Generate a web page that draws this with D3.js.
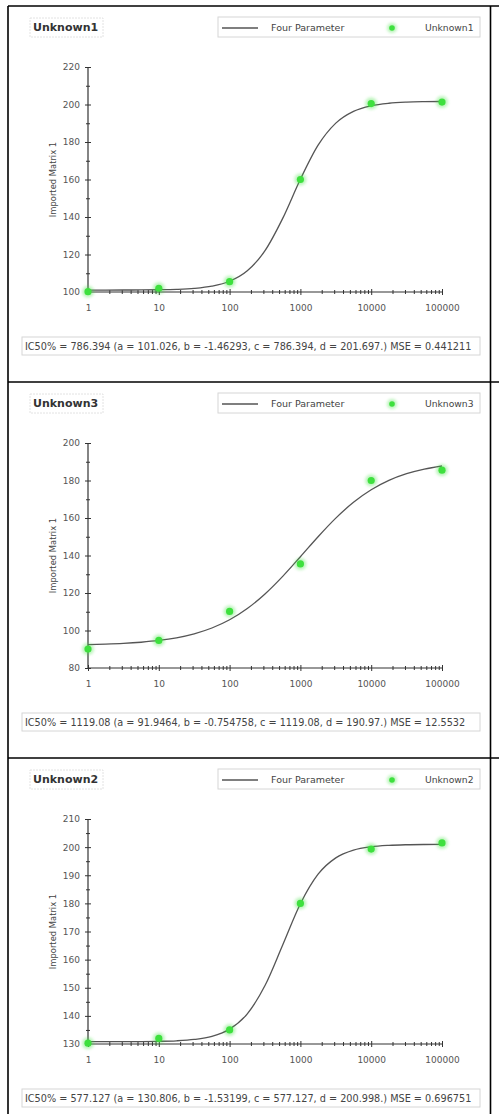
<!DOCTYPE html>
<html><head><meta charset="utf-8">
<script src="https://cdn.jsdelivr.net/npm/d3@7"></script>
<style>
html,body{margin:0;padding:0;background:#fff;}
svg{display:block;}
text{font-family:"DejaVu Sans",Verdana,sans-serif;}
</style></head>
<body>
<svg id="c" width="499" height="1114"></svg>
<script>
// ---------- data ----------
const xTickValues = [1, 10, 100, 1000, 10000, 100000];
const xTickLabels = ["1", "10", "100", "1000", "10000", "100000"];
const pointX = [1, 10, 100, 1000, 10000, 100000];
const curveX = [1, 1.778, 3.162, 5.623, 10, 17.78, 31.62, 56.23, 100, 177.8, 316.2, 562.3,
  1000, 1778, 3162, 5623, 10000, 17783, 31623, 56234, 100000];

const titles = ["Unknown1", "Unknown3", "Unknown2"];
const legendLine = "Four Parameter";
const yLabel = "Imported Matrix 1";

const points1 = [100.2, 102.0, 105.5, 160.0, 200.5, 201.3];
const points2 = [90.1, 94.7, 110.2, 135.5, 180.0, 185.5];
const points3 = [130.3, 132.0, 135.0, 180.0, 199.3, 201.5];

const curve1 = [101.03, 101.04, 101.06, 101.10, 101.20, 101.42, 101.93, 103.11, 105.72, 111.30, 122.04,
  139.26, 160.12, 178.29, 190.07, 196.34, 199.31, 200.66, 201.25, 201.50, 201.61];
const curve2 = [92.44, 92.71, 93.11, 93.74, 94.68, 96.11, 98.23, 101.33, 105.72, 111.72, 119.49,
  128.88, 139.36, 150.03, 159.93, 168.38, 175.05, 180.05, 183.61, 186.08, 187.74];
const curve3 = [130.81, 130.82, 130.83, 130.86, 130.95, 131.14, 131.62, 132.73, 135.29, 140.73, 150.79,
  165.20, 179.86, 190.37, 196.17, 198.92, 200.12, 200.63, 200.85, 200.94, 200.97];

const yDomains = [[100, 220], [80, 200], [130, 210]];
const yMajor1 = [100, 120, 140, 160, 180, 200, 220];
const yMajor2 = [80, 100, 120, 140, 160, 180, 200];
const yMajor3 = [130, 140, 150, 160, 170, 180, 190, 200, 210];
const yMinorStep = [10, 10, 5];

const fitTexts = [
  "IC50% = 786.394 (a = 101.026, b = -1.46293, c = 786.394, d = 201.697.) MSE = 0.441211",
  "IC50% = 1119.08 (a = 91.9464, b = -0.754758, c = 1119.08, d = 190.97.) MSE = 12.5532",
  "IC50% = 577.127 (a = 130.806, b = -1.53199, c = 577.127, d = 200.998.) MSE = 0.696751"
];

// ---------- layout ----------
const panelTops = [6, 382, 758];
const svg = d3.select("#c");
const green = "#3ee03e";
const curveColor = "#555";
const textColor = "#444";

const defs = svg.append("defs");
const blur = defs.append("filter").attr("id", "glow").attr("x", "-100%").attr("y", "-100%")
  .attr("width", "300%").attr("height", "300%");
blur.append("feGaussianBlur").attr("stdDeviation", 1.6);

const panels = [
  {title: titles[0], pts: points1, curve: curve1, dom: yDomains[0], major: yMajor1, minor: yMinorStep[0], fit: fitTexts[0]},
  {title: titles[1], pts: points2, curve: curve2, dom: yDomains[1], major: yMajor2, minor: yMinorStep[1], fit: fitTexts[1]},
  {title: titles[2], pts: points3, curve: curve3, dom: yDomains[2], major: yMajor3, minor: yMinorStep[2], fit: fitTexts[2]}
];

const x = d3.scaleLog().domain([1, 100000]).range([88, 442]);
const xMinor = [];
xTickValues.slice(0, -1).forEach(v => { for (let k = 2; k <= 9; k++) xMinor.push(v * k); });
const FONT = "'DejaVu Sans',Verdana,sans-serif";

panels.forEach((p, i) => {
  const T = panelTops[i];
  const g = svg.append("g");
  const y = d3.scaleLinear().domain(p.dom).range([T + 286, T + 61]);

  // title box
  g.append("rect").attr("x", 30).attr("y", T + 12).attr("width", 73).attr("height", 19)
    .attr("fill", "none").attr("stroke", "#e2e2e2").attr("stroke-dasharray", "2,1");
  g.append("text").attr("x", 33).attr("y", T + 25).attr("font-size", 11).attr("font-weight", "bold")
    .attr("fill", "#333").text(p.title);

  // legend box
  g.append("rect").attr("x", 218).attr("y", T + 11).attr("width", 262).attr("height", 20)
    .attr("fill", "none").attr("stroke", "#d6d6d6");
  g.append("line").attr("x1", 222).attr("x2", 258).attr("y1", T + 22).attr("y2", T + 22)
    .attr("stroke", curveColor).attr("stroke-width", 1.3);
  g.append("text").attr("x", 271).attr("y", T + 25).attr("font-size", 9.5).attr("fill", textColor).text(legendLine);
  g.append("circle").attr("cx", 392).attr("cy", T + 22).attr("r", 5).attr("fill", green).attr("opacity", 0.35).attr("filter", "url(#glow)");
  g.append("circle").attr("cx", 392).attr("cy", T + 22).attr("r", 2.8).attr("fill", green);
  g.append("text").attr("x", 425).attr("y", T + 25).attr("font-size", 9.2).attr("fill", textColor).text(p.title);

  // y axis
  const yMinorVals = d3.range(p.dom[0], p.dom[1] + 0.001, p.minor).filter(v => !p.major.includes(v));
  const yaMinor = g.append("g").attr("transform", "translate(88,0)")
    .call(d3.axisLeft(y).tickValues(yMinorVals).tickFormat("").tickSize(2));
  yaMinor.selectAll(".tick line").attr("x1", -2).attr("x2", 2).attr("stroke", "#333");
  yaMinor.select(".domain").remove();
  const ya = g.append("g").attr("transform", "translate(88,0)")
    .call(d3.axisLeft(y).tickValues(p.major).tickSize(3).tickPadding(5));
  ya.selectAll(".tick line").attr("x1", -3).attr("x2", 3).attr("stroke", "#333");
  ya.select(".domain").attr("d", `M0,${T + 286}V${T + 61}`).attr("stroke", "#333").attr("stroke-width", 1.2);
  ya.selectAll(".tick text").attr("font-size", 9).attr("fill", "#555").attr("font-family", FONT);

  // x axis
  const xaMinor = g.append("g").attr("transform", `translate(0,${T + 286})`)
    .call(d3.axisBottom(x).tickValues(xMinor).tickFormat("").tickSize(2));
  xaMinor.selectAll(".tick line").attr("y1", -2).attr("y2", 2).attr("stroke", "#333");
  xaMinor.select(".domain").remove();
  const xa = g.append("g").attr("transform", `translate(0,${T + 286})`)
    .call(d3.axisBottom(x).tickValues(xTickValues).tickFormat((d, j) => xTickLabels[j]).tickSize(3));
  xa.selectAll(".tick line").attr("y1", -3).attr("y2", 3).attr("stroke", "#333");
  xa.select(".domain").attr("d", "M88,0H442").attr("stroke", "#333").attr("stroke-width", 1.2);
  xa.selectAll(".tick text").attr("y", 19).attr("dy", 0).attr("font-size", 9).attr("fill", "#555")
    .attr("font-family", FONT);

  // y label
  g.append("text").attr("transform", `translate(56,${T + 173.5}) rotate(-90)`)
    .attr("text-anchor", "middle").attr("font-size", 8.4).attr("fill", textColor).text(yLabel);

  // fitted curve
  const line = d3.line().x(d => x(d[0])).y(d => y(d[1])).curve(d3.curveMonotoneX);
  g.append("path").datum(curveX.map((v, j) => [v, p.curve[j]]))
    .attr("d", line).attr("fill", "none").attr("stroke", curveColor).attr("stroke-width", 1.3);

  // points
  const pts = pointX.map((v, j) => [v, p.pts[j]]);
  g.selectAll(".halo").data(pts).join("circle").attr("class", "halo")
    .attr("cx", d => x(d[0])).attr("cy", d => y(d[1])).attr("r", 6)
    .attr("fill", green).attr("opacity", 0.35).attr("filter", "url(#glow)");
  g.selectAll(".pt").data(pts).join("circle").attr("class", "pt")
    .attr("cx", d => x(d[0])).attr("cy", d => y(d[1])).attr("r", 3.6).attr("fill", green);

  // fit text box
  g.append("rect").attr("x", 22).attr("y", T + 331).attr("width", 458).attr("height", 18)
    .attr("fill", "none").attr("stroke", "#d6d6d6");
  g.append("text").attr("x", 25).attr("y", T + 343.5).attr("font-size", 9.7).attr("fill", textColor).text(p.fit);
});

// table borders
const border = svg.append("g").attr("stroke", "#000").attr("stroke-width", 1.6);
border.append("line").attr("x1", 8).attr("x2", 8).attr("y1", 6).attr("y2", 1114);
border.append("line").attr("x1", 490.5).attr("x2", 490.5).attr("y1", 6).attr("y2", 1114);
panelTops.forEach(t => border.append("line").attr("x1", 8).attr("x2", 499).attr("y1", t).attr("y2", t));
</script>
</body></html>
